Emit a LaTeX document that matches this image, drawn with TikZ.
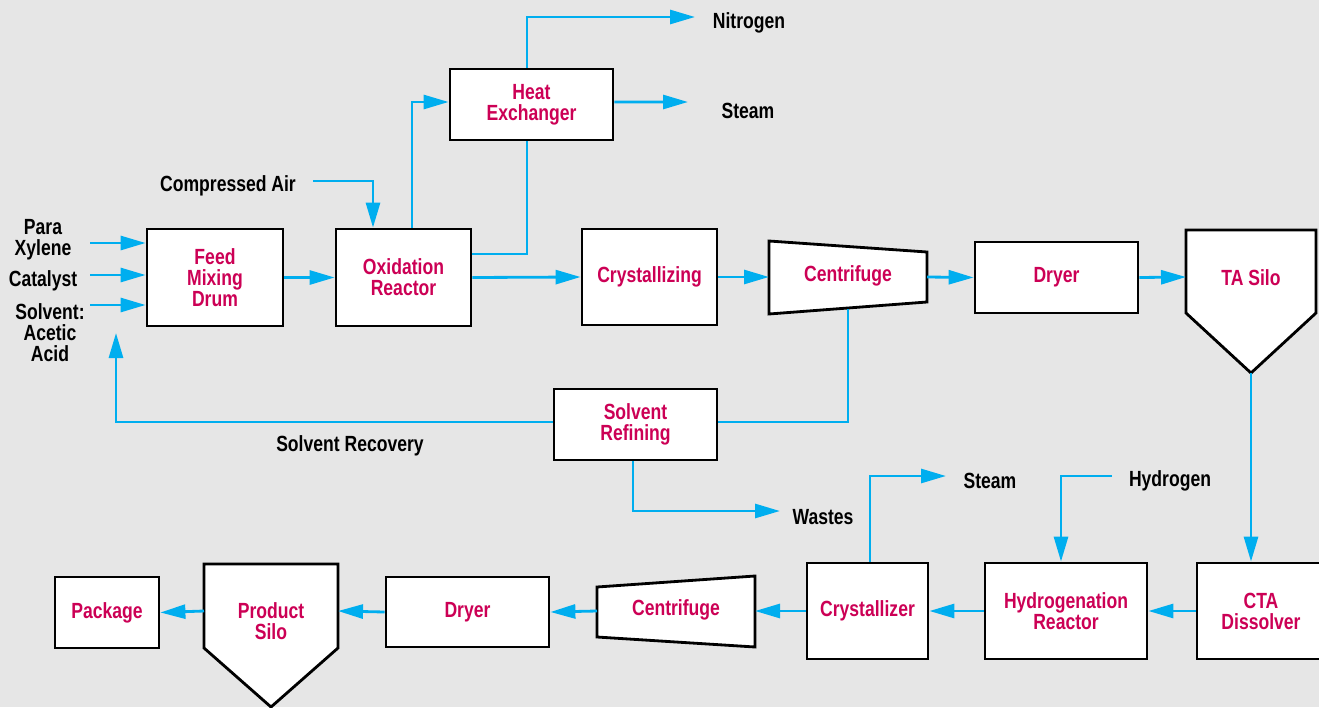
\documentclass[tikz,border=0pt]{standalone}
\usepackage{fontspec}
\setmainfont{Liberation Sans}[FakeStretch=0.8]
\usetikzlibrary{arrows.meta}
\definecolor{FlowBlue}{RGB}{0,174,239}
\definecolor{UnitRed}{RGB}{204,0,85}
\definecolor{PageGray}{RGB}{230,230,230}
\tikzset{
  unit/.style={draw, line width=1.6pt, fill=white, text=UnitRed, align=center, inner sep=0pt,
    font=\bfseries\fontsize{12.5}{12}\selectfont},
  vessel/.style={draw, line width=1.6pt, fill=white, line join=miter},
  tag/.style={text=UnitRed, align=center, inner sep=0pt, font=\bfseries\fontsize{12.5}{12}\selectfont},
  stream/.style={align=center, inner sep=0pt, font=\bfseries\fontsize{12.5}{12}\selectfont},
  pipe/.style={FlowBlue, line width=1.6pt},
  flow/.style={pipe, -{Triangle[length=0.5cm,width=0.28cm]}},
}

\begin{document}
\begin{tikzpicture}[x=0.02cm,y=-0.02cm]
    \useasboundingbox (0,0) rectangle (1319,707);
    \clip (0,0) rectangle (1319,707);
    \fill[PageGray] (0,0) rectangle (1319,707);

    % upper line
    \node[unit, minimum width=2.72cm, minimum height=1.94cm] (feed) at (215,277.5) {Feed\\Mixing\\Drum};
    \node[unit, minimum width=2.70cm, minimum height=1.94cm] (oxid) at (403.5,277.5) {Oxidation\\Reactor};
    \node[unit, minimum width=3.26cm, minimum height=1.42cm] (heatx) at (531.5,104.5) {Heat\\Exchanger};
    \node[unit, minimum width=2.70cm, minimum height=1.92cm] (crys) at (649.5,277) {Crystallizing};
    \draw[vessel] (769,241) -- (927,252) -- (927,302) -- (769,314) -- cycle;
    \node[tag] (cent1) at (848,276) {Centrifuge};
    \coordinate (cent1 w) at (769,277);
    \coordinate (cent1 e) at (927,277);
    \coordinate (cent1 s) at (848,309);
    \node[unit, minimum width=3.26cm, minimum height=1.42cm] (dryer1) at (1056.5,277.5) {Dryer};
    \draw[vessel] (1186,230) -- (1316,230) -- (1316,313) -- (1251,373) -- (1186,313) -- cycle;
    \node[tag] (silo1) at (1251,278) {TA Silo};
    \coordinate (silo1 w) at (1186,277);
    \coordinate (silo1 s) at (1251,373);
    \node[unit, minimum width=3.26cm, minimum height=1.42cm] (refine) at (635.5,424.5) {Solvent\\Refining};

    % lower line
    \node[unit, minimum width=2.56cm, minimum height=1.92cm] (cta) at (1261,611) {CTA\\Dissolver};
    \node[unit, minimum width=3.24cm, minimum height=1.92cm] (hydro) at (1066,611) {Hydrogenation\\Reactor};
    \node[unit, minimum width=2.42cm, minimum height=1.92cm] (crysz) at (867.5,611) {Crystallizer};
    \draw[vessel] (597,587) -- (755,576) -- (755,647) -- (597,637) -- cycle;
    \node[tag] (cent2) at (676,610) {Centrifuge};
    \coordinate (cent2 e) at (755,611);
    \coordinate (cent2 w) at (597,611);
    \node[unit, minimum width=3.26cm, minimum height=1.40cm] (dryer2) at (467.5,612) {Dryer};
    \draw[vessel] (204,564) -- (338,564) -- (338,648) -- (271,707) -- (204,648) -- cycle;
    \node[tag] (silo2) at (271,621) {Product\\Silo};
    \coordinate (silo2 e) at (338,611);
    \coordinate (silo2 w) at (204,611);
    \node[unit, minimum width=2.08cm, minimum height=1.42cm] (pack) at (107,612.5) {Package};

    % stream labels
    \node[stream] (pxy) at (43,240) {Para\\Xylene};
    \node[stream] (cat) at (43,281) {Catalyst};
    \node[stream] (solv) at (50,333) {Solvent:\\Acetic\\Acid};
    \node[stream] (air) at (228,186) {Compressed Air};
    \node[stream] (nitro) at (749,23) {Nitrogen};
    \node[stream] (steam1) at (748,111) {Steam};
    \node[stream] (recov) at (350,446) {Solvent Recovery};
    \node[stream] (waste) at (823,517) {Wastes};
    \node[stream] (steam2) at (990,481) {Steam};
    \node[stream] (hyd) at (1170,481) {Hydrogen};

    \foreach \n/\y in {pxy/243,cat/275,solv/305} {
        \coordinate (\n in) at (90,\y);
        \draw[flow] (\n in) -- (\n in -| feed.west);
    }
    \coordinate (air in) at (313,181);
    \coordinate (nitro out) at (695,17);
    \coordinate (steam1 out) at (688,102);
    \coordinate (recov out) at (116,333);
    \coordinate (waste out) at (780,511);
    \coordinate (hyd in) at (1112,476);
    \coordinate (steam2 out) at (946,476);

    \draw[flow] (feed.east) -- (oxid.west);
    \draw[flow] (air in) -| ([xshift=-0.61cm]oxid.north);
    \draw[flow] ([xshift=0.17cm]oxid.north) |- ([yshift=0.05cm]heatx.west);
    \draw[pipe] ([yshift=0.47cm]oxid.east) -| ([xshift=-0.09cm]heatx.south);
    \draw[flow] ([xshift=-0.09cm]heatx.north) |- (nitro out);
    \draw[flow] ([yshift=0.05cm]heatx.east) -- (steam1 out);
    \draw[flow] (oxid.east) -- (crys.west);
    \draw[flow] (crys.east) -- (cent1 w);
    \draw[flow] (cent1 e) -- (dryer1.west);
    \draw[flow] (dryer1.east) -- (silo1 w);
    \draw[pipe] (cent1 s) |- ([yshift=0.05cm]refine.east);
    \draw[flow] ([yshift=0.05cm]refine.west) -| (recov out);
    \draw[flow] ([xshift=-0.05cm]refine.south) |- (waste out);
    \draw[flow] (silo1 s) -- (silo1 s |- cta.north);
    \draw[flow] (cta.west) -- (hydro.east);
    \draw[flow] (hyd in) -| ([xshift=-0.1cm]hydro.north);
    \draw[flow] (hydro.west) -- (crysz.east);
    \draw[flow] ([xshift=0.05cm]crysz.north) |- (steam2 out);
    \draw[flow] (crysz.west) -- (cent2 e);
    \draw[flow] (cent2 w) -- (dryer2.east);
    \draw[flow] (dryer2.west) -- (silo2 e);
    \draw[flow] (silo2 w) -- (pack.east);
\end{tikzpicture}
\end{document}
